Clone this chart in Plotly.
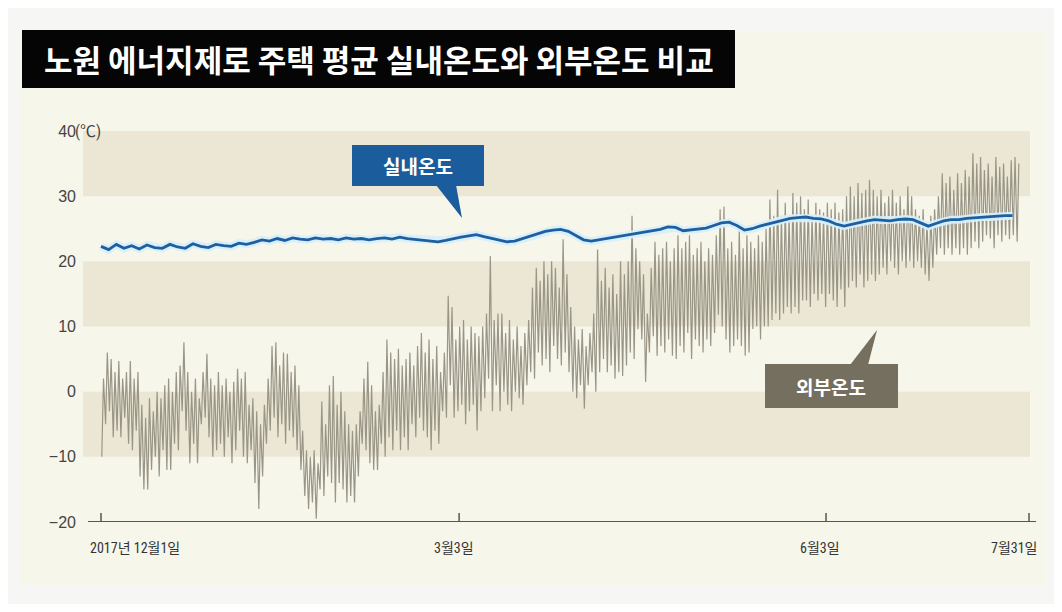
import plotly.graph_objects as go

# ---------------- data ----------------
# day index 0 = 2017-12-01; daily outdoor low / high (°C)
outdoor_low = [
    -10, -5, -3, -7, -6, -7, -4, -8, -9, -6,
    -13, -15, -15, -12, -10, -13, -9, -12, -12, -8,
    -9, -3, -6, -11, -8, -11, -5, -4, -7, -10,
    -9, -8, -10, -7, -11, -9, -6, -10, -11, -9,
    -14, -18, -13, -8, -6, -4, -7, -5, -8, -6,
    -7, -9, -12, -16, -18, -17, -19.5, -15, -16, -13,
    -14, -17, -14, -15, -17, -16, -17, -13, -8, -9,
    -11, -12, -12, -8, -10, -7, -9, -6, -9, -7,
    -9, -5, -7, -4, -6, -7, -9, -6, -8, -3,
    -4, 1, -4, -3, -2, -5, -3, -2, -6, -3,
    -1, 2, -3, 1, -3, 0, -2, -3, 0, -1,
    -2, 1, 3, 2, 6, 4, 5, 3, 7, 5,
    4, 6, 3, 0, -1, 1, -2.6, 1, 3, 0,
    3, 5, 3, 4, 2, 3, 2.4, 4, 6, 5,
    9.6, 8, 1.5, 6, 8.5, 5.5, 7, 6, 8, 5.5,
    5, 7, 6, 9, 5, 8, 7, 6, 8, 7,
    9, 11.8, 10, 8, 6, 7, 8, 7, 5.5, 6,
    9.6, 10, 8, 10, 10, 11, 12, 11, 12, 13,
    12, 13, 12, 14, 14, 13, 15, 14, 15, 13,
    15, 14, 13, 15.7, 13, 16, 17, 16, 18, 16,
    17, 18, 17, 18, 19, 18, 20, 19, 18, 20,
    19, 20, 19, 20, 19, 18, 17, 19, 21, 22,
    21, 22, 21, 22, 21, 22, 21, 22, 23, 22,
    23, 24, 23.5, 22, 24, 23, 24, 23.4, 24, 23,
]
outdoor_high = [
    2, 6, 5, 3, 4.7, 2, 3, 4.7, 2, 3,
    -2, -4, -1, -3, 0, -1, 1, 2, 0, 3,
    4, 7.6, 3, 0, 2, -1, 3, 5.8, 2, 1,
    3, 1, 2, 0, 1.5, 3.5, 2, 3, -2, -1,
    -3, -5, -2, 2, 7, 7.6, 4, 6, 5.8, 3,
    4, 1, -6, -9, -10, -9, -11, -1.5, -5, 1,
    2.4, -2, 0, -3, -5, -6, -5, -3, 2, 4.6,
    1, -3, -2, 3, 8, 6, 5, 6.6, 4, 5,
    6, 4, 7, 9, 6, 8, 5, 7, 3, 6,
    14.7, 13, 8, 10, 11, 8, 10, 9, 8.5, 10,
    12, 20.8, 11, 12, 12, 9, 11, 8, 10, 7,
    9, 11, 16, 19, 17, 20, 18, 20, 19, 16,
    23.4, 18, 13, 10, 8, 9.6, 7, 9, 12, 21.8,
    17, 19, 16, 18, 15, 20, 18, 20, 27, 22,
    20, 18, 12, 19, 23, 21, 22, 23, 20, 22,
    24, 22, 23, 24, 21, 22, 23, 20, 22, 21,
    24, 28, 28.4, 22, 23, 21, 25, 22, 24, 23,
    22, 24, 23, 25, 29.5, 27, 31, 27, 29, 27,
    30.5, 29, 30, 28, 29.5, 27, 29, 28, 27.5, 29,
    28, 29, 27.5, 28, 30, 31.5, 30, 32, 30.5, 31,
    32.5, 31, 30, 31, 29, 30, 31, 29, 30, 28,
    31.5, 30, 28, 27, 28, 26, 27, 28, 30, 33.5,
    32, 33, 31, 33.5, 32, 34, 33, 36.6, 35, 36,
    34, 35, 33, 36, 34.5, 35, 33, 35.5, 36, 35,
]
# indoor average, every 2 days (°C)
indoor_step_days = 2
indoor = [
    22.3, 21.8, 22.6, 22.0, 22.4, 21.9, 22.5, 22.1, 22.0, 22.6,
    22.2, 22.0, 22.7, 22.3, 22.1, 22.6, 22.4, 22.3, 22.8, 22.6,
    22.9, 23.3, 23.1, 23.5, 23.2, 23.6, 23.4, 23.3, 23.6, 23.4,
    23.5, 23.3, 23.6, 23.4, 23.5, 23.3, 23.5, 23.6, 23.4, 23.7,
    23.5, 23.4, 23.3, 23.2, 23.0, 23.2, 23.5, 23.7, 23.9, 24.1,
    23.8, 23.5, 23.2, 23.0, 23.1, 23.5, 23.9, 24.3, 24.6, 24.8,
    24.9, 24.6, 24.0, 23.3, 23.1, 23.3, 23.5, 23.7, 23.9, 24.1,
    24.2, 24.4, 24.6, 24.9, 25.3, 25.2, 24.7, 24.8, 24.9, 25.1,
    25.5, 25.9, 26.0, 25.5, 24.8, 25.0, 25.4, 25.7, 26.0, 26.4,
    26.6, 26.7, 26.8, 26.6, 26.5, 26.2, 25.7, 25.4, 25.7, 26.0,
    26.2, 26.4, 26.3, 26.2, 26.4, 26.5, 26.4, 25.9, 25.4, 25.8,
    26.2, 26.4, 26.4, 26.6, 26.7, 26.8, 26.8, 26.9, 27.0, 27.0,
]
# x tick labels and their positions (in day-index units, as drawn in the picture)
x_tick_pos = [0, 93.5, 189.3, 242.3]
x_tick_text = ["2017년 12월1일", "3월3일", "6월3일", "7월31일"]
y_tick_vals = [-20, -10, 0, 10, 20, 30, 40]
y_tick_text = ["−20", "−10", "0", "10", "20", "30", "40"]
shaded_bands = [(30, 40), (10, 20), (-10, 0)]

title_text = "노원 에너지제로 주택 평균 실내온도와 외부온도 비교"
label_indoor = "실내온도"
label_outdoor = "외부온도"

# ---------------- build series ----------------
ox, oy = [], []
for d, (lo, hi) in enumerate(zip(outdoor_low, outdoor_high)):
    ox += [d + 0.2, d + 0.65]
    oy += [lo, hi]
ix = [i * indoor_step_days for i in range(len(indoor))]

# ---------------- layout geometry (screen pixels; page body has 8px margin) ----------------
OFF = 8
FW, FH = 1062 - 2 * OFF, 612 - 2 * OFF
PL, PR, PT, PB = 84, 1034, 131, 522          # plot area on screen
ML, MR, MT, MB = PL - OFF, FW - (PR - OFF), PT - OFF, FH - (PB - OFF)
PW, PH = FW - ML - MR, FH - MT - MB
px_per_day = 3.83
x0 = (PL - 101) / px_per_day
x1 = x0 + PW / px_per_day


def px(sx):
    return (sx - OFF - ML) / PW


def py(sy):
    return (FH - MB - (sy - OFF)) / PH


FONT_NUM = "Liberation Sans Narrow, Roboto Condensed, Arial Narrow, Noto Sans CJK KR, sans-serif"
FONT_Y = "Liberation Sans, Arial, sans-serif"
FONT_KR = "Noto Sans CJK KR, sans-serif"

fig = go.Figure()
fig.add_trace(go.Scatter(x=ox, y=oy, mode="lines",
                         line=dict(color="#9a9687", width=1.2),
                         hoverinfo="skip", showlegend=False))
fig.add_trace(go.Scatter(x=ix, y=indoor, mode="lines",
                         line=dict(color="rgba(215,238,250,0.95)", width=8),
                         hoverinfo="skip", showlegend=False))
fig.add_trace(go.Scatter(x=ix, y=indoor, mode="lines",
                         line=dict(color="#1d5f9f", width=2.8),
                         hoverinfo="skip", showlegend=False))

shapes = []
shapes.append(dict(type="rect", xref="paper", yref="paper", layer="below",
                   x0=px(20), x1=px(1046), y0=py(586), y1=py(32),
                   fillcolor="#f7f6ea", line=dict(width=0)))
for lo, hi in shaded_bands:
    shapes.append(dict(type="rect", xref="paper", yref="y", layer="below",
                       x0=px(83), x1=px(1030), y0=lo, y1=hi,
                       fillcolor="#ebe7d4", line=dict(width=0)))
# title box
shapes.append(dict(type="rect", xref="paper", yref="paper",
                   x0=px(22), x1=px(735), y0=py(88), y1=py(30),
                   fillcolor="#050505", line=dict(width=0)))
# indoor callout
shapes.append(dict(type="rect", xref="paper", yref="paper",
                   x0=px(352), x1=px(484), y0=py(186), y1=py(145),
                   fillcolor="#1b5c9c", line=dict(width=0)))
shapes.append(dict(type="path", xref="paper", yref="paper",
                   path=f"M {px(436)} {py(185)} L {px(456)} {py(185)} L {px(462)} {py(218)} Z",
                   fillcolor="#1b5c9c", line=dict(width=0)))
# outdoor callout
shapes.append(dict(type="rect", xref="paper", yref="paper",
                   x0=px(765), x1=px(898), y0=py(408), y1=py(364),
                   fillcolor="#756f5f", line=dict(width=0)))
shapes.append(dict(type="path", xref="paper", yref="paper",
                   path=f"M {px(850)} {py(365)} L {px(868)} {py(365)} L {px(877)} {py(330)} Z",
                   fillcolor="#756f5f", line=dict(width=0)))
# baseline at -20 with upward ticks
shapes.append(dict(type="line", xref="paper", yref="y",
                   x0=px(88), x1=px(1036), y0=-20, y1=-20,
                   line=dict(color="#555555", width=2)))
for t in x_tick_pos:
    shapes.append(dict(type="line", xref="x", yref="paper",
                       x0=t, x1=t, y0=py(522), y1=py(513),
                       line=dict(color="#555555", width=1.5)))

annotations = [
    dict(text=f"<b>{title_text}</b>", xref="paper", yref="paper",
         x=px(42), y=py(59), xanchor="left", yanchor="middle", showarrow=False,
         font=dict(family=FONT_KR, size=31, color="#ffffff")),
    dict(text=f"<b>{label_indoor}</b>", xref="paper", yref="paper",
         x=px(418), y=py(165), xanchor="center", yanchor="middle", showarrow=False,
         font=dict(family=FONT_KR, size=19, color="#ffffff")),
    dict(text=f"<b>{label_outdoor}</b>", xref="paper", yref="paper",
         x=px(831), y=py(386), xanchor="center", yanchor="middle", showarrow=False,
         font=dict(family=FONT_KR, size=19, color="#ffffff")),
    dict(text="(℃)", xref="paper", yref="y", x=px(73), y=40,
         xanchor="left", yanchor="middle", showarrow=False,
         font=dict(family=FONT_NUM, size=16, color="#444444")),
]
# x tick labels (as in the picture: first left-aligned, last right-aligned)
x_anchor = ["left", "center", "center", "right"]
x_shift = [-13, -5, -6, 11]
for pos, txt, anc, sh in zip(x_tick_pos, x_tick_text, x_anchor, x_shift):
    annotations.append(dict(text=txt, xref="x", yref="paper", x=pos, y=py(538),
                            xanchor=anc, yanchor="top", xshift=sh, showarrow=False,
                            font=dict(family=FONT_NUM, size=14, color="#333333")))

fig.update_layout(
    width=FW, height=FH,
    margin=dict(l=ML, r=MR, t=MT, b=MB, pad=0),
    paper_bgcolor="#f6f6f4", plot_bgcolor="rgba(0,0,0,0)",
    shapes=shapes, annotations=annotations, showlegend=False,
    xaxis=dict(range=[x0, x1], showgrid=False, zeroline=False,
               showline=False, showticklabels=False, ticks=""),
    yaxis=dict(range=[-20, 40], showgrid=False, zeroline=False, showline=False,
               tickmode="array", tickvals=y_tick_vals, ticktext=y_tick_text,
               ticks="", ticklabelstandoff=7,
               tickfont=dict(family=FONT_Y, size=16, color="#444444")),
)

fig.write_html("out.html")
